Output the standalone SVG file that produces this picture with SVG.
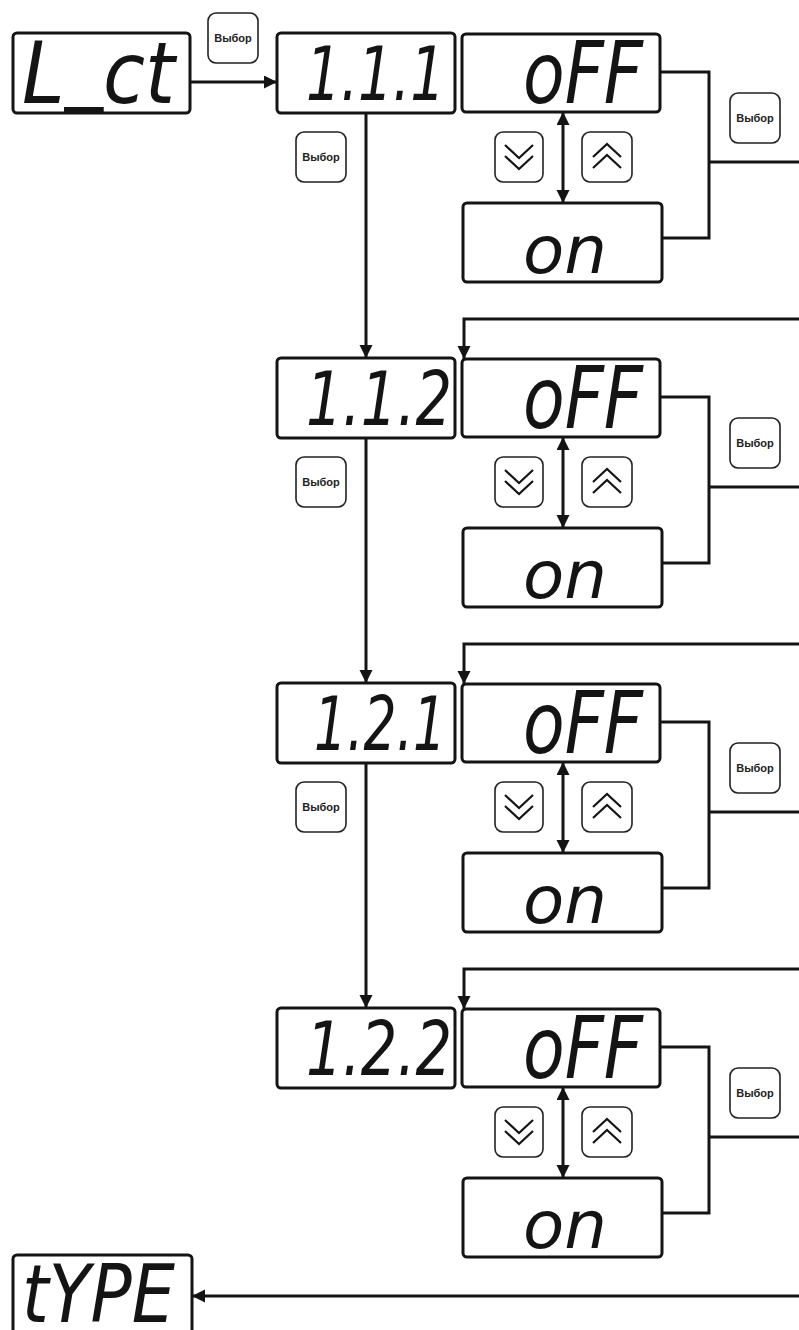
<svg xmlns="http://www.w3.org/2000/svg" width="799" height="1330" viewBox="0 0 799 1330">
<style>
.box{fill:#fff;stroke:#141414;stroke-width:3}
.btn{fill:#fff;stroke:#222;stroke-width:1.6}
.lbl{font-family:"Liberation Sans",Arial,sans-serif;font-weight:bold;font-size:11px;text-anchor:middle;fill:#222}
.seg{font-family:"DejaVu Sans",sans-serif;font-style:italic;font-size:86px;fill:#141414}
.sm{font-family:"DejaVu Sans",sans-serif;font-style:italic;font-size:66px;fill:#141414}
.dig{font-family:"DejaVu Sans",sans-serif;font-style:italic;font-size:75px;fill:#141414}
.ln{fill:none;stroke:#141414;stroke-width:3}
.chev{fill:none;stroke:#141414;stroke-width:2.2}
</style>
<defs>
<marker id="ah" markerWidth="14" markerHeight="14" refX="13" refY="6.5" orient="auto-start-reverse" markerUnits="userSpaceOnUse"><path d="M0,0 L13,6.5 L0,13 z" fill="#141414"/></marker>
<g id="sel"><rect class="btn" x="0" y="0" width="50" height="50" rx="8"/><text class="lbl" x="25" y="29">Выбор</text></g>
<g id="dn"><rect class="btn" x="0" y="0" width="48" height="50" rx="8"/><path class="chev" d="M10,13 L24,26 L38,13 M10,24 L24,37 L38,24"/></g>
<g id="up"><rect class="btn" x="0" y="0" width="50" height="50" rx="8"/><path class="chev" d="M11,25 L25,12 L39,25 M11,36 L25,23 L39,36"/></g>
</defs>
<rect width="799" height="1330" fill="#fff"/>

<g id="connectors">
<path class="ln" d="M190,82 H277" marker-end="url(#ah)"/>
<path class="ln" d="M366,113 V358" marker-end="url(#ah)"/>
<path class="ln" d="M366,438 V683" marker-end="url(#ah)"/>
<path class="ln" d="M366,763 V1008" marker-end="url(#ah)"/>
<path class="ln" d="M563,112 V203" marker-start="url(#ah)" marker-end="url(#ah)"/>
<path class="ln" d="M563,437 V528" marker-start="url(#ah)" marker-end="url(#ah)"/>
<path class="ln" d="M563,762 V853" marker-start="url(#ah)" marker-end="url(#ah)"/>
<path class="ln" d="M563,1087 V1178" marker-start="url(#ah)" marker-end="url(#ah)"/>
<path class="ln" d="M660,72 H709 V238 H662 M709,162 H799"/>
<path class="ln" d="M660,397 H709 V563 H662 M709,487 H799"/>
<path class="ln" d="M660,722 H709 V888 H662 M709,812 H799"/>
<path class="ln" d="M660,1047 H709 V1213 H662 M709,1137 H799"/>
<path class="ln" d="M799,319 H464 V359" marker-end="url(#ah)"/>
<path class="ln" d="M799,644 H464 V684" marker-end="url(#ah)"/>
<path class="ln" d="M799,969 H464 V1009" marker-end="url(#ah)"/>
<path class="ln" d="M799,1296 H192" marker-end="url(#ah)"/>
</g>

<g id="node-lct"><rect class="box" x="13" y="33" width="177" height="80" rx="4"/><text class="seg" x="22" y="103" textLength="153" lengthAdjust="spacingAndGlyphs">L<tspan dy="-10">_</tspan><tspan dy="10">ct</tspan></text></g>
<g id="node-sel-top"><use href="#sel" x="208" y="13"/></g>

<g id="node-111"><rect class="box" x="277" y="33" width="178" height="80" rx="4"/><text class="dig" x="306" y="100" textLength="139" lengthAdjust="spacingAndGlyphs">1.1.1</text></g>
<g id="node-sel-1"><use href="#sel" x="296" y="132"/></g>
<g id="node-off-1"><rect class="box" x="462" y="34" width="198" height="78" rx="4"/><text class="seg" x="523" y="103" textLength="120" lengthAdjust="spacingAndGlyphs">oFF</text></g>
<g id="node-on-1"><rect class="box" x="463" y="203" width="199" height="79" rx="4"/><text class="sm" x="523" y="273" textLength="84" lengthAdjust="spacingAndGlyphs">on</text></g>
<g id="node-dn-1"><use href="#dn" x="495" y="132"/></g>
<g id="node-up-1"><use href="#up" x="582" y="132"/></g>
<g id="node-selr-1"><use href="#sel" x="730" y="93"/></g>

<g id="node-112"><rect class="box" x="277" y="358" width="178" height="80" rx="4"/><text class="dig" x="306" y="425" textLength="146" lengthAdjust="spacingAndGlyphs">1.1.2</text></g>
<g id="node-sel-2"><use href="#sel" x="296" y="457"/></g>
<g id="node-off-2"><rect class="box" x="462" y="359" width="198" height="78" rx="4"/><text class="seg" x="523" y="428" textLength="120" lengthAdjust="spacingAndGlyphs">oFF</text></g>
<g id="node-on-2"><rect class="box" x="463" y="528" width="199" height="79" rx="4"/><text class="sm" x="523" y="598" textLength="84" lengthAdjust="spacingAndGlyphs">on</text></g>
<g id="node-dn-2"><use href="#dn" x="495" y="457"/></g>
<g id="node-up-2"><use href="#up" x="582" y="457"/></g>
<g id="node-selr-2"><use href="#sel" x="730" y="418"/></g>

<g id="node-121"><rect class="box" x="277" y="683" width="178" height="80" rx="4"/><text class="dig" x="314" y="750" textLength="132" lengthAdjust="spacingAndGlyphs">1.2.1</text></g>
<g id="node-sel-3"><use href="#sel" x="296" y="782"/></g>
<g id="node-off-3"><rect class="box" x="462" y="684" width="198" height="78" rx="4"/><text class="seg" x="523" y="753" textLength="120" lengthAdjust="spacingAndGlyphs">oFF</text></g>
<g id="node-on-3"><rect class="box" x="463" y="853" width="199" height="79" rx="4"/><text class="sm" x="523" y="923" textLength="84" lengthAdjust="spacingAndGlyphs">on</text></g>
<g id="node-dn-3"><use href="#dn" x="495" y="782"/></g>
<g id="node-up-3"><use href="#up" x="582" y="782"/></g>
<g id="node-selr-3"><use href="#sel" x="730" y="743"/></g>

<g id="node-122"><rect class="box" x="277" y="1008" width="178" height="80" rx="4"/><text class="dig" x="306" y="1075" textLength="146" lengthAdjust="spacingAndGlyphs">1.2.2</text></g>
<g id="node-off-4"><rect class="box" x="462" y="1009" width="198" height="78" rx="4"/><text class="seg" x="523" y="1078" textLength="120" lengthAdjust="spacingAndGlyphs">oFF</text></g>
<g id="node-on-4"><rect class="box" x="463" y="1178" width="199" height="79" rx="4"/><text class="sm" x="523" y="1248" textLength="84" lengthAdjust="spacingAndGlyphs">on</text></g>
<g id="node-dn-4"><use href="#dn" x="495" y="1107"/></g>
<g id="node-up-4"><use href="#up" x="582" y="1107"/></g>
<g id="node-selr-4"><use href="#sel" x="730" y="1068"/></g>

<g id="node-type"><rect class="box" x="13" y="1255" width="179" height="80" rx="4"/><text class="seg" x="22" y="1322" style="font-size:80px" textLength="153" lengthAdjust="spacingAndGlyphs">tYPE</text></g>
</svg>
